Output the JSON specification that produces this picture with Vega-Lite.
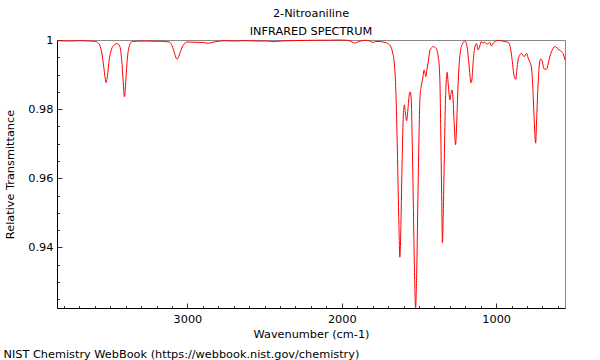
{
  "$schema": "https://vega.github.io/schema/vega-lite/v6.json",
  "width": 508,
  "height": 268,
  "autosize": "none",
  "padding": {"left": 57, "top": 40, "right": 35, "bottom": 52},
  "background": "white",
  "config": {
    "font": "DejaVu Sans",
    "view": {"stroke": "#888888", "strokeWidth": 1},
    "axis": {"grid": false, "labelFont": "DejaVu Sans", "titleFont": "DejaVu Sans", "labelColor": "black", "titleColor": "black", "titleFontWeight": "normal", "domainColor": "black", "tickColor": "#333333", "labelFontSize": 11.3, "titleFontSize": 11.3}
  },
  "title": {
    "text": "2-Nitroaniline",
    "subtitle": "INFRARED SPECTRUM",
    "font": "DejaVu Sans",
    "subtitleFont": "DejaVu Sans",
    "fontSize": 11.3,
    "subtitleFontSize": 11.3,
    "fontWeight": "normal",
    "color": "black",
    "subtitleColor": "black",
    "anchor": "middle",
    "offset": -3,
    "subtitlePadding": 6
  },
  "data": {
    "values": [
      {"w": 3845, "t": 0.9998}, {"w": 3763, "t": 0.9997}, {"w": 3698, "t": 0.9998}, {"w": 3633, "t": 0.9997},
      {"w": 3594, "t": 0.99957}, {"w": 3572, "t": 0.99885}, {"w": 3556, "t": 0.99654}, {"w": 3543, "t": 0.9925},
      {"w": 3533, "t": 0.98903}, {"w": 3527, "t": 0.98768}, {"w": 3518, "t": 0.98961}, {"w": 3507, "t": 0.99423},
      {"w": 3491, "t": 0.9974}, {"w": 3475, "t": 0.99856}, {"w": 3455, "t": 0.99899}, {"w": 3439, "t": 0.99827},
      {"w": 3426, "t": 0.99423}, {"w": 3416, "t": 0.98788}, {"w": 3408, "t": 0.98355}, {"w": 3399, "t": 0.98846},
      {"w": 3389, "t": 0.99481}, {"w": 3374, "t": 0.99856}, {"w": 3358, "t": 0.99957}, {"w": 3274, "t": 0.9997},
      {"w": 3177, "t": 0.99962}, {"w": 3118, "t": 0.99942}, {"w": 3099, "t": 0.99827}, {"w": 3082, "t": 0.99596},
      {"w": 3068, "t": 0.99443}, {"w": 3053, "t": 0.99567}, {"w": 3037, "t": 0.99769}, {"w": 3021, "t": 0.99885},
      {"w": 3002, "t": 0.99942}, {"w": 2950, "t": 0.99934}, {"w": 2899, "t": 0.99928}, {"w": 2866, "t": 0.99905},
      {"w": 2827, "t": 0.99942}, {"w": 2756, "t": 0.9998}, {"w": 2691, "t": 0.9997}, {"w": 2627, "t": 0.9998},
      {"w": 2543, "t": 0.9997}, {"w": 2478, "t": 0.9997}, {"w": 2446, "t": 0.99951}, {"w": 2400, "t": 0.9997},
      {"w": 2336, "t": 0.9998}, {"w": 2271, "t": 0.99986}, {"w": 2206, "t": 0.99991}, {"w": 2141, "t": 0.99994},
      {"w": 2077, "t": 0.99994}, {"w": 2012, "t": 1.0}, {"w": 1960, "t": 0.99991}, {"w": 1934, "t": 0.99942},
      {"w": 1916, "t": 0.99913}, {"w": 1896, "t": 0.99942}, {"w": 1870, "t": 0.9998}, {"w": 1844, "t": 0.99991},
      {"w": 1818, "t": 0.9997}, {"w": 1799, "t": 0.99928}, {"w": 1779, "t": 0.99957}, {"w": 1753, "t": 0.99957},
      {"w": 1734, "t": 0.99942}, {"w": 1721, "t": 0.99933}, {"w": 1702, "t": 0.99899}, {"w": 1685, "t": 0.99827},
      {"w": 1672, "t": 0.99654}, {"w": 1659, "t": 0.99278}, {"w": 1650, "t": 0.98557}, {"w": 1640, "t": 0.96825},
      {"w": 1630, "t": 0.9466}, {"w": 1624, "t": 0.93717}, {"w": 1617, "t": 0.9466}, {"w": 1609, "t": 0.96537},
      {"w": 1601, "t": 0.97835}, {"w": 1594, "t": 0.98124}, {"w": 1588, "t": 0.97893}, {"w": 1580, "t": 0.97662},
      {"w": 1572, "t": 0.97979}, {"w": 1562, "t": 0.98442}, {"w": 1557, "t": 0.98499}, {"w": 1550, "t": 0.98268},
      {"w": 1544, "t": 0.97114}, {"w": 1536, "t": 0.95094}, {"w": 1528, "t": 0.93074}, {"w": 1522, "t": 0.9225},
      {"w": 1515, "t": 0.93218}, {"w": 1507, "t": 0.95382}, {"w": 1499, "t": 0.97403}, {"w": 1493, "t": 0.98384},
      {"w": 1485, "t": 0.98672}, {"w": 1475, "t": 0.98903}, {"w": 1467, "t": 0.99134}, {"w": 1460, "t": 0.99019},
      {"w": 1456, "t": 0.98941}, {"w": 1449, "t": 0.99134}, {"w": 1440, "t": 0.99365}, {"w": 1430, "t": 0.99683},
      {"w": 1420, "t": 0.99769}, {"w": 1407, "t": 0.99807}, {"w": 1394, "t": 0.99784}, {"w": 1384, "t": 0.99711},
      {"w": 1375, "t": 0.99509}, {"w": 1368, "t": 0.99192}, {"w": 1363, "t": 0.98557}, {"w": 1359, "t": 0.97403},
      {"w": 1353, "t": 0.95527}, {"w": 1348, "t": 0.94133}, {"w": 1343, "t": 0.94949}, {"w": 1336, "t": 0.96537},
      {"w": 1330, "t": 0.97979}, {"w": 1323, "t": 0.98846}, {"w": 1318, "t": 0.99068}, {"w": 1310, "t": 0.98701},
      {"w": 1300, "t": 0.98268}, {"w": 1292, "t": 0.9847}, {"w": 1285, "t": 0.98557}, {"w": 1279, "t": 0.98268},
      {"w": 1273, "t": 0.97691}, {"w": 1263, "t": 0.9697}, {"w": 1256, "t": 0.97547}, {"w": 1248, "t": 0.98557},
      {"w": 1240, "t": 0.99278}, {"w": 1232, "t": 0.99654}, {"w": 1219, "t": 0.99885}, {"w": 1203, "t": 0.99971},
      {"w": 1194, "t": 0.99913}, {"w": 1184, "t": 0.99654}, {"w": 1174, "t": 0.99192}, {"w": 1163, "t": 0.98759},
      {"w": 1156, "t": 0.98903}, {"w": 1149, "t": 0.99365}, {"w": 1139, "t": 0.99769}, {"w": 1127, "t": 0.99899},
      {"w": 1117, "t": 0.99711}, {"w": 1106, "t": 0.99827}, {"w": 1096, "t": 0.99957}, {"w": 1085, "t": 0.99905},
      {"w": 1074, "t": 0.99934}, {"w": 1064, "t": 0.99899}, {"w": 1054, "t": 0.99885}, {"w": 1041, "t": 0.99934},
      {"w": 1030, "t": 0.99827}, {"w": 1019, "t": 0.99913}, {"w": 1006, "t": 0.99957}, {"w": 988, "t": 0.99991},
      {"w": 966, "t": 0.99977}, {"w": 944, "t": 0.99957}, {"w": 923, "t": 0.99934}, {"w": 912, "t": 0.99856},
      {"w": 903, "t": 0.99654}, {"w": 895, "t": 0.99365}, {"w": 887, "t": 0.99048}, {"w": 879, "t": 0.98889},
      {"w": 873, "t": 0.98866}, {"w": 866, "t": 0.99134}, {"w": 858, "t": 0.99423}, {"w": 847, "t": 0.9956},
      {"w": 837, "t": 0.99616}, {"w": 828, "t": 0.99567}, {"w": 819, "t": 0.99518}, {"w": 803, "t": 0.99616},
      {"w": 793, "t": 0.99481}, {"w": 782, "t": 0.99365}, {"w": 772, "t": 0.99221}, {"w": 765, "t": 0.98846},
      {"w": 759, "t": 0.98268}, {"w": 752, "t": 0.97547}, {"w": 747, "t": 0.97114}, {"w": 744, "t": 0.97019},
      {"w": 739, "t": 0.97547}, {"w": 733, "t": 0.98268}, {"w": 726, "t": 0.98903}, {"w": 720, "t": 0.99307},
      {"w": 711, "t": 0.99452}, {"w": 700, "t": 0.99365}, {"w": 692, "t": 0.99192}, {"w": 682, "t": 0.99149},
      {"w": 672, "t": 0.99163}, {"w": 663, "t": 0.99307}, {"w": 653, "t": 0.99509}, {"w": 642, "t": 0.99654},
      {"w": 630, "t": 0.99769}, {"w": 617, "t": 0.99812}, {"w": 605, "t": 0.99769}, {"w": 592, "t": 0.99711},
      {"w": 578, "t": 0.99668}, {"w": 566, "t": 0.9961}, {"w": 559, "t": 0.99509}, {"w": 554, "t": 0.99423}
    ]
  },
  "layer": [
    {
      "mark": {"type": "line", "color": "#ff0000", "strokeWidth": 1, "interpolate": "monotone"},
      "encoding": {
        "x": {
          "field": "w", "type": "quantitative",
          "scale": {"domain": [554, 3845], "reverse": true, "nice": false, "zero": false},
          "axis": {
            "values": [1000, 2000, 3000],
            "format": "d",
            "tickSize": -5,
            "labelPadding": 10,
            "labelFlush": false,
            "labelOverlap": false,
            "title": "Wavenumber (cm-1)",
            "titleBaseline": "alphabetic",
            "titleY": 29
          }
        },
        "y": {
          "field": "t", "type": "quantitative",
          "scale": {"domain": [0.9225, 1.0], "nice": false, "zero": false},
          "axis": {
            "values": [0.94, 0.96, 0.98, 1.0],
            "format": "~g",
            "tickSize": -5,
            "labelPadding": 9,
            "labelFlush": false,
            "labelOverlap": false,
            "title": "Relative Transmittance",
            "titleAngle": 270,
            "titleX": -47,
            "titleY": 134,
            "titleAlign": "center",
            "titleBaseline": "middle"
          }
        }
      }
    },
    {
      "mark": {"type": "line", "opacity": 0},
      "encoding": {
        "x": {
          "field": "w", "type": "quantitative",
          "axis": {
            "orient": "bottom",
            "values": [600, 700, 800, 900, 1100, 1200, 1300, 1400, 1500, 1600, 1700, 1800, 1900, 2100, 2200, 2300, 2400, 2500, 2600, 2700, 2800, 2900, 3100, 3200, 3300, 3400, 3500, 3600, 3700, 3800],
            "tickSize": -2.5,
            "labels": false,
            "domain": false,
            "title": "NIST Chemistry WebBook (https://webbook.nist.gov/chemistry)",
            "titleAlign": "left",
            "titleAnchor": "start",
            "titleBaseline": "alphabetic",
            "titleX": -54,
            "titleY": 49
          }
        },
        "y": {
          "field": "t", "type": "quantitative",
          "axis": {
            "orient": "left",
            "values": [0.925, 0.93, 0.935, 0.945, 0.95, 0.955, 0.965, 0.97, 0.975, 0.985, 0.99, 0.995],
            "tickSize": -2.5,
            "labels": false,
            "domain": false,
            "title": null
          }
        }
      }
    }
  ],
  "resolve": {"axis": {"x": "independent", "y": "independent"}}
}
